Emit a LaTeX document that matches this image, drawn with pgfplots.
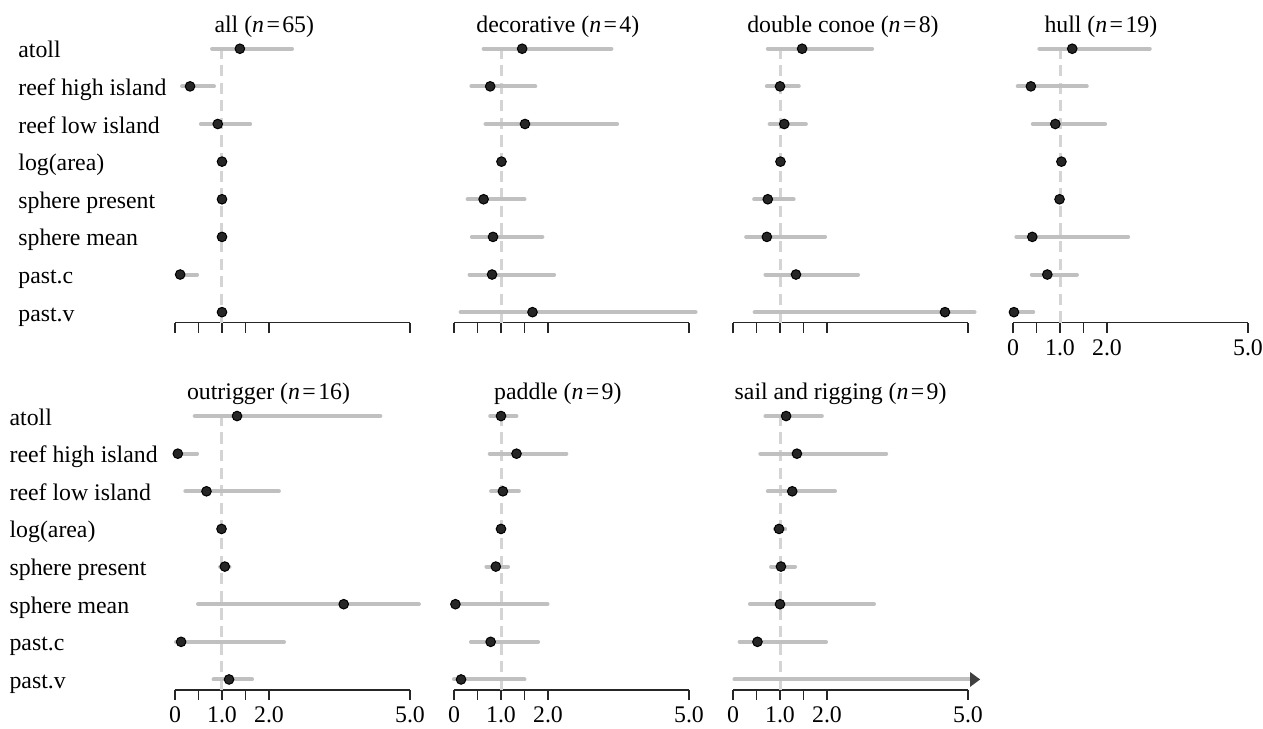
\documentclass[border=0pt]{standalone}
\usepackage{fontspec}
\setmainfont{Liberation Serif}
\usepackage{pgfplots}
\usepackage{pgfplotstable}
\pgfplotsset{compat=1.18}
\usetikzlibrary{arrows.meta}

\definecolor{barg}{RGB}{192,192,192}
\definecolor{dashg}{RGB}{212,212,212}
\definecolor{dotk}{RGB}{38,38,38}
\newcommand{\lab}{\fontsize{11.9}{14}\selectfont}
\newcommand{\nn}[1]{(\textit{n}\kern1.2pt=\kern1.2pt#1)}

% columns: row (8 = atoll ... 1 = past.v), estimate, lower, upper
\pgfplotstableread{
row pt lo hi
8 1.38 0.79 2.49
7 0.32 0.15 0.83
6 0.91 0.55 1.60
5 1.00 0.98 1.02
4 1.00 0.97 1.03
3 1.00 0.97 1.03
2 0.11 0.04 0.47
1 1.00 0.98 1.02
}\tabAll
\pgfplotstableread{
row pt lo hi
8 1.45 0.63 3.35
7 0.77 0.37 1.73
6 1.51 0.67 3.47
5 1.01 0.99 1.03
4 0.63 0.29 1.50
3 0.83 0.38 1.88
2 0.81 0.33 2.13
1 1.67 0.14 5.14
}\tabDeco
\pgfplotstableread{
row pt lo hi
8 1.47 0.74 2.96
7 1.00 0.72 1.40
6 1.09 0.78 1.55
5 1.01 0.99 1.03
4 0.74 0.45 1.29
3 0.72 0.28 1.96
2 1.34 0.69 2.66
1 4.51 0.46 5.14
}\tabDouble
\pgfplotstableread{
row pt lo hi
8 1.26 0.56 2.91
7 0.38 0.10 1.57
6 0.90 0.42 1.96
5 1.03 1.01 1.05
4 0.99 0.97 1.01
3 0.41 0.07 2.45
2 0.73 0.40 1.36
1 0.02 0.00 0.43
}\tabHull
\pgfplotstableread{
row pt lo hi
8 1.32 0.42 4.37
7 0.06 0.00 0.47
6 0.67 0.22 2.21
5 0.99 0.97 1.01
4 1.06 0.96 1.16
3 3.59 0.49 5.19
2 0.13 0.02 2.32
1 1.15 0.82 1.64
}\tabOut
\pgfplotstableread{
row pt lo hi
8 1.00 0.77 1.33
7 1.33 0.76 2.39
6 1.04 0.79 1.38
5 1.00 0.98 1.02
4 0.89 0.69 1.15
3 0.03 0.00 1.99
2 0.78 0.36 1.79
1 0.15 0.00 1.50
}\tabPaddle
\pgfplotstableread{
row pt lo hi
8 1.13 0.69 1.89
7 1.36 0.58 3.26
6 1.26 0.74 2.17
5 0.98 0.89 1.11
4 1.02 0.81 1.32
3 1.00 0.36 3.00
2 0.52 0.14 1.98
}\tabSail

\pgfplotsset{
  forest/.style={
    scale only axis, width=117.5pt, height=155.79pt,
    anchor=south west, clip=false,
    xmin=0, xmax=5, ymin=0.72, ymax=9,
    axis x line=bottom, axis y line=left,
    x axis line style={-, line width=0.75pt, black!85},
    y axis line style={draw=none},
    xtick={0,0.5,1,1.5,2,5}, xticklabels={},
    ytick={1,...,8}, yticklabels={},
    tick align=outside, major tick length=5pt,
    xtick style={line width=0.6pt, black!85},
    ytick style={draw=none},
    tick label style={font=\lab},
  },
  xlab/.style={xticklabels={0,,1.0,,2.0,5.0}},
  ylab/.style={
    yticklabels={past.v,past.c,sphere mean,sphere present,log(area),reef low island,reef high island,atoll},
    yticklabel style={anchor=base west, inner sep=0pt, xshift=#1, yshift=-4.5pt},
  },
  refline/.style={dashg, line width=1.5pt, dash pattern=on 5.6pt off 3.2pt, forget plot},
  ci/.style={only marks, mark=none, forget plot,
    error bars/.cd, x dir=both, x explicit, error mark=none,
    error bar style={draw=barg, line width=2pt, line cap=round, solid}},
  est/.style={only marks, mark=*, mark size=2.4pt,
    mark options={fill=dotk, draw=black, line width=0.5pt}},
}

\newcommand{\panel}[1]{%
  \addplot[refline] coordinates {(1,0.72) (1,8)};
  \addplot[ci] table[x=pt, y=row,
    x error plus expr=\thisrow{hi}-\thisrow{pt},
    x error minus expr=\thisrow{pt}-\thisrow{lo}] {#1};
  \addplot[est] table[x=pt, y=row] {#1};
}

\begin{document}
\begin{tikzpicture}
\path[use as bounding box] (0,0) rectangle (631.5pt,364pt);

% top row
\begin{axis}[forest, ylab=-73.5pt, at={(87.5pt,202.65pt)}]
\panel{\tabAll}
\node[anchor=base, font=\lab] at (axis cs:1.90,8.44) {all \nn{65}};
\end{axis}

\begin{axis}[forest, at={(227pt,202.65pt)}]
\panel{\tabDeco}
\node[anchor=base, font=\lab] at (axis cs:2.21,8.44) {decorative \nn{4}};
\end{axis}

\begin{axis}[forest, at={(366.5pt,202.65pt)}]
\panel{\tabDouble}
\node[anchor=base, font=\lab] at (axis cs:2.34,8.44) {double conoe \nn{8}};
\end{axis}

\begin{axis}[forest, xlab, at={(506.5pt,202.65pt)}]
\panel{\tabHull}
\node[anchor=base, font=\lab] at (axis cs:1.87,8.44) {hull \nn{19}};
\end{axis}

% bottom row
\begin{axis}[forest, xlab, ylab=-77.9pt, at={(87.5pt,19pt)}]
\panel{\tabOut}
\node[anchor=base, font=\lab] at (axis cs:1.99,8.44) {outrigger \nn{16}};
\end{axis}

\begin{axis}[forest, xlab, at={(227pt,19pt)}]
\panel{\tabPaddle}
\node[anchor=base, font=\lab] at (axis cs:2.21,8.44) {paddle \nn{9}};
\end{axis}

\begin{axis}[forest, xlab, at={(366.5pt,19pt)}]
\panel{\tabSail}
\addplot[barg, line width=2pt, line cap=round,
  -{Triangle[length=5pt, width=7pt, color=black!75]}]
  coordinates {(0.03,1) (5.26,1)};
\node[anchor=base, font=\lab] at (axis cs:2.29,8.44) {sail and rigging \nn{9}};
\end{axis}
\end{tikzpicture}
\end{document}
